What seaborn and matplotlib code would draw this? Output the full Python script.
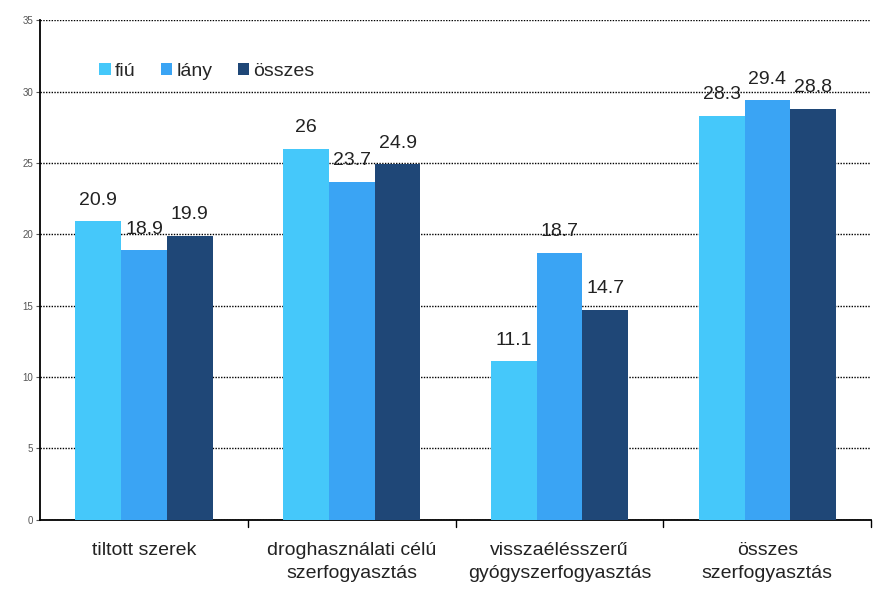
import pandas as pd
import matplotlib.pyplot as plt
import seaborn as sns

categories = [
    "tiltott szerek",
    "droghasználati célú\nszerfogyasztás",
    "visszaélésszerű\ngyógyszerfogyasztás",
    "összes\nszerfogyasztás",
]
groups = ["fiú", "lány", "összes"]
fiu = [20.9, 26, 11.1, 28.3]
lany = [18.9, 23.7, 18.7, 29.4]
osszes = [19.9, 24.9, 14.7, 28.8]
colors = ["#45C8FA", "#3AA4F4", "#1F4777"]

df = pd.DataFrame({"kategoria": categories, "fiú": fiu, "lány": lany, "összes": osszes})
df_long = df.melt(id_vars="kategoria", var_name="nem", value_name="arany")

sns.set_style("white")
plt.rcParams["font.family"] = ["Liberation Sans Narrow", "Liberation Sans", "DejaVu Sans"]

fig = plt.figure(figsize=(8.73, 5.96), dpi=100)
ax = fig.add_axes([0.046, 0.128, 0.952, 0.838])

sns.barplot(
    data=df_long, x="kategoria", y="arany", hue="nem",
    hue_order=groups, palette=colors, width=0.66, saturation=1,
    linewidth=0, ax=ax, zorder=3,
)

for cont in ax.containers:
    ax.bar_label(cont, labels=[f"{v:g}" for v in cont.datavalues],
                 padding=9, fontsize=14, color="#222222")

ax.set_ylim(0, 35)
ax.set_yticks(range(0, 36, 5))
ax.set_xlim(-0.5, 3.5)
ax.yaxis.grid(True, linestyle=(0, (1, 1)), color="black", linewidth=1)
ax.set_axisbelow(True)
ax.tick_params(axis="y", labelsize=7, colors="#555555", length=3, left=True, pad=2)
ax.tick_params(axis="x", labelsize=14, length=0, pad=16, labelcolor="#222222")
for lbl in ax.get_xticklabels():
    lbl.set_linespacing(1.5)
ax.set_xlabel("")
ax.set_ylabel("")
for s in ["top", "right"]:
    ax.spines[s].set_visible(False)
ax.spines["left"].set_color("black")
ax.spines["bottom"].set_color("black")
ax.spines["left"].set_linewidth(1.3)
ax.spines["bottom"].set_linewidth(1.3)

# category separators on x axis
for xb in [0.5, 1.5, 2.5, 3.5]:
    ax.plot([xb, xb], [0, -0.5], color="black", lw=1, clip_on=False)

ax.legend(
    loc="upper left", bbox_to_anchor=(0.05, 0.95), ncol=3, frameon=False,
    fontsize=14, handlelength=0.6, handleheight=0.6, handletextpad=0.2,
    columnspacing=1.3,
)

plt.savefig("out.png", dpi=100)
